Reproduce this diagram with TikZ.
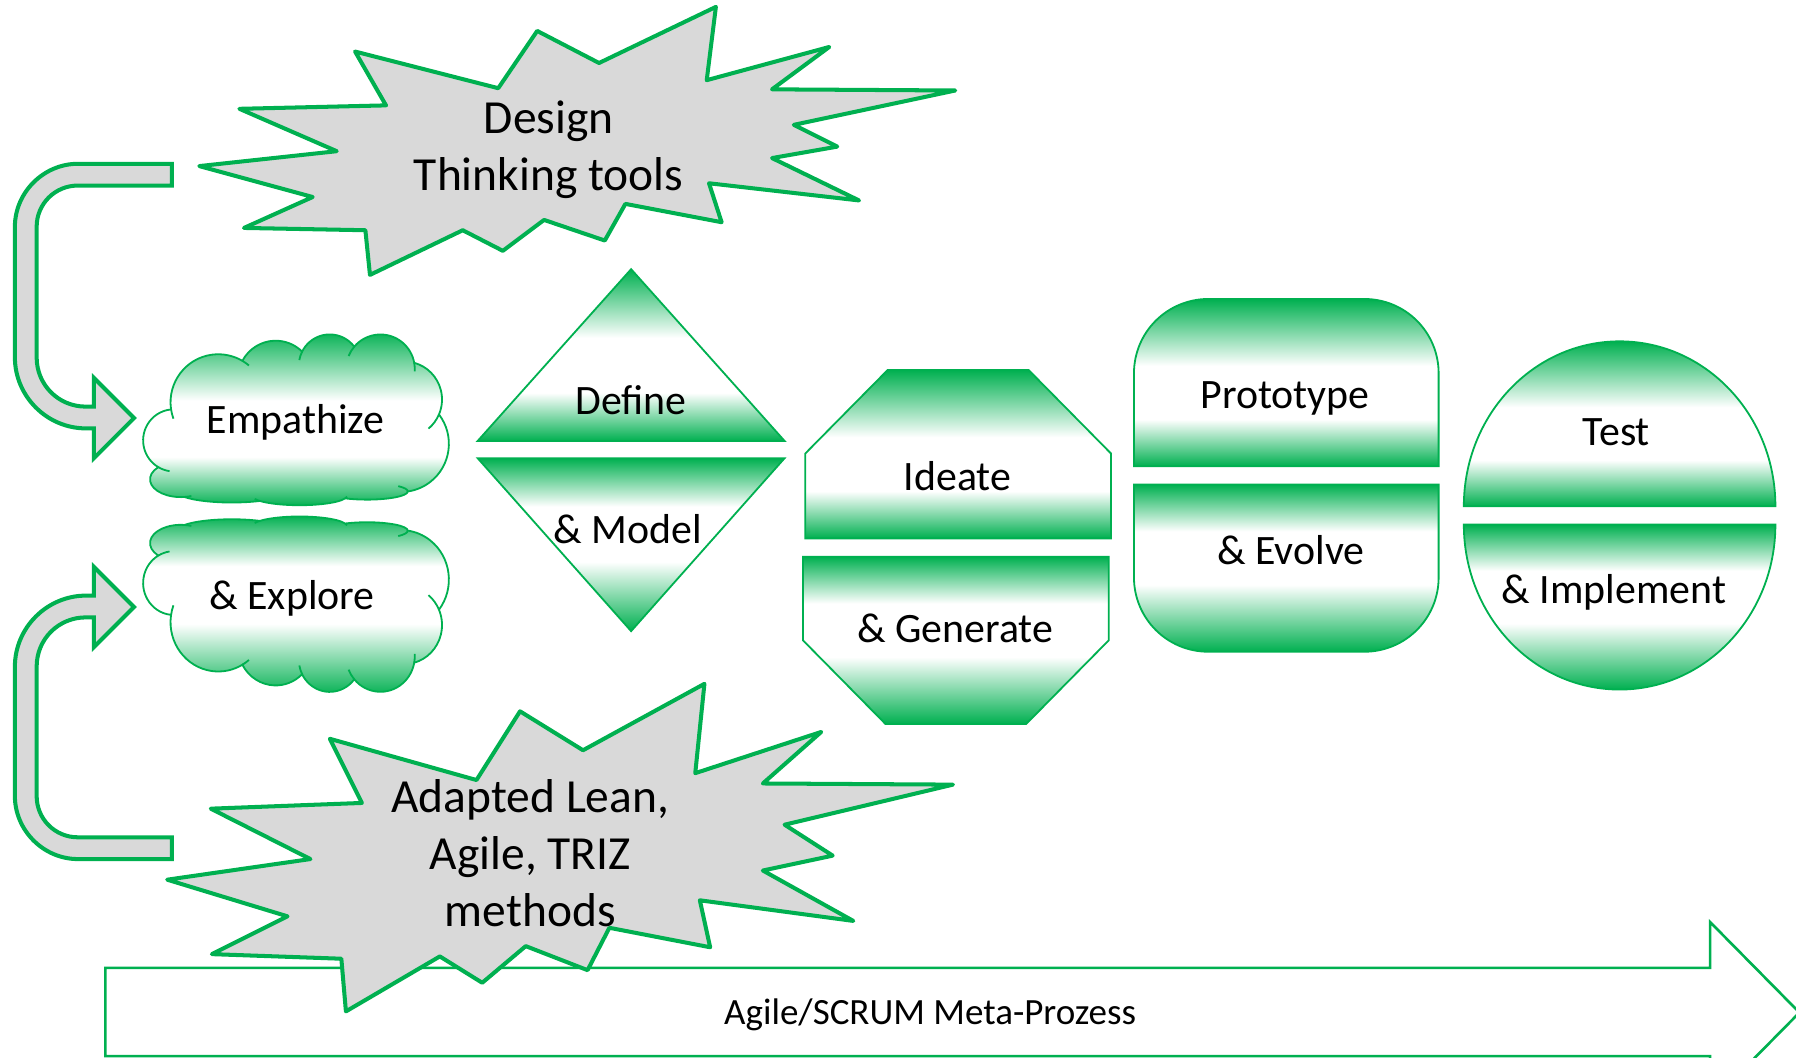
\documentclass[tikz,border=0pt]{standalone}
\usepackage{fontspec}
\setmainfont{Carlito}
\usepackage{tikz}
\usetikzlibrary{calc}
\definecolor{dtgreen}{HTML}{00B050}
\definecolor{dtgray}{HTML}{D9D9D9}
\pgfdeclareverticalshading{greenband}{100bp}{color(0bp)=(dtgreen); color(25bp)=(dtgreen); color(39bp)=(white); color(55bp)=(white); color(75bp)=(dtgreen); color(100bp)=(dtgreen)}
\pgfdeclareverticalshading{greenbandflip}{100bp}{color(0bp)=(dtgreen); color(25bp)=(dtgreen); color(45bp)=(white); color(61bp)=(white); color(75bp)=(dtgreen); color(100bp)=(dtgreen)}
\newcommand{\cloudoutline}{(39.00,143.70) coordinate (p1)
  arc[start angle=-187.75, end angle=-59.64, x radius=67.53, y radius=91.90] coordinate (p2)
  arc[start angle=-152.02, end angle=-45.44, x radius=53.33, y radius=72.67] coordinate (p3)
  arc[start angle=-153.48, end angle=-37.33, x radius=43.65, y radius=59.45] coordinate (p4)
  arc[start angle=-139.69, end angle=-10.21, x radius=48.57, y radius=65.95] coordinate (p5)
  arc[start angle=-74.77, end angle=23.21, x radius=53.33, y radius=72.73] coordinate (p6)
  arc[start angle=-37.53, end angle=81.86, x radius=67.75, y radius=92.20] coordinate (p7)
  arc[start angle=0.46, end angle=121.98, x radius=57.85, y radius=15.73] coordinate (p8)
  arc[start angle=16.84, end angle=146.24, x radius=67.52, y radius=18.43] coordinate (p9)
  arc[start angle=58.98, end angle=150.20, x radius=77.20, y radius=21.09] coordinate (p10)
  arc[start angle=-276.69, end angle=-136.89, x radius=43.60, y radius=34.03] coordinate (p11)
  arc[start angle=-239.64, end angle=-95.89, x radius=43.45, y radius=59.45] -- cycle}
\newcommand{\cloudinner}{(p1) arc[start angle=-187.75, end angle=-200, x radius=67.53, y radius=91.90]
  (p2) arc[start angle=-59.64, end angle=-50, x radius=67.53, y radius=91.90]
  (p3) arc[start angle=-153.48, end angle=-170, x radius=43.65, y radius=59.45]
  (p4) arc[start angle=-139.69, end angle=-158, x radius=48.57, y radius=65.95]
  (p5) arc[start angle=-10.21, end angle=4, x radius=48.57, y radius=65.95]
  (p6) arc[start angle=23.21, end angle=50, x radius=53.33, y radius=72.73]
  (p7) arc[start angle=0.46, end angle=-40, x radius=57.85, y radius=15.73]
  (p8) arc[start angle=16.84, end angle=6, x radius=67.52, y radius=18.43]
  (p9) arc[start angle=146.24, end angle=160, x radius=67.52, y radius=18.43]
  (p10) arc[start angle=-276.69, end angle=-290, x radius=43.60, y radius=34.03]
  (p11) arc[start angle=-239.64, end angle=-262, x radius=43.45, y radius=59.45]}

\begin{document}
\begin{tikzpicture}[x=0.02cm, y=-0.02cm,
    phase/.style={draw=dtgreen, line width=0.9pt, shade, shading=greenband},
    phaseflip/.style={draw=dtgreen, line width=0.9pt, shade, shading=greenbandflip},
    puffline/.style={draw=dtgreen, line width=0.9pt},
    burst/.style={draw=dtgreen, line width=2pt, fill=dtgray, line join=round},
    bentarrow/.style={draw=dtgreen, line width=2pt, fill=dtgray},
    phasetext/.style={font=\fontsize{20.8}{25}\selectfont, inner sep=0pt},
    bursttext/.style={font=\fontsize{23.6}{28.45}\selectfont, align=center, inner sep=0pt}]
  \useasboundingbox (0,0) rectangle (1568,923);

  % meta process arrow
  \path[draw=dtgreen, line width=1.3pt, fill=white] (92,845) -- (1493,845) -- (1493,805) -- (1571,884) -- (1493,963) -- (1493,922) -- (92,922) -- cycle;
  \node[font=\fontsize{18.4}{22}\selectfont, inner sep=0pt] (scrum) at (812,886) {Agile/SCRUM Meta-Prozess};

  % bent arrows
  \path[bentarrow] (150,143) -- (68,143) .. controls (38,143) and (13,168) .. (13,198) -- (13,312) .. controls (13,346) and (41,374) .. (75,374) -- (82,374) -- (82,400) -- (117,365) -- (82,330) -- (82,355) -- (75,355) .. controls (51,355) and (32,336) .. (32,312) -- (32,198) .. controls (32,178) and (48,162) .. (68,162) -- (150,162) -- cycle;
  \path[bentarrow] (150,750) -- (68,750) .. controls (38,750) and (13,725) .. (13,695) -- (13,582) .. controls (13,548) and (41,520) .. (75,520) -- (82,520) -- (82,495) -- (117,530) -- (82,565) -- (82,539) -- (75,539) .. controls (51,539) and (32,558) .. (32,582) -- (32,695) .. controls (32,715) and (48,731) .. (68,731) -- (150,731) -- cycle;

  % explosions
  \path[burst] (625,6) -- (617,70) -- (724,41) -- (674,78) -- (834,79) -- (693,109) -- (731,128) -- (674,138) -- (750,175) -- (619,160) -- (630,194) -- (546,178) -- (528,210) -- (475,192) -- (439,219) -- (404,201) -- (323,240) -- (319,201) -- (213,199) -- (273,172) -- (174,145) -- (294,132) -- (209,95) -- (337,92) -- (310,45) -- (435,77) -- (469,27) -- (523,55) -- cycle;
  \node[bursttext] (dttools) at (479,131) {Design\\Thinking tools};
  \path[burst] (615,597) -- (607,675) -- (717,639) -- (666,684) -- (832,685) -- (685,720) -- (727,747) -- (666,760) -- (745,804) -- (611,786) -- (620,827) -- (532,810) -- (513,847) -- (459,826) -- (421,858) -- (384,835) -- (302,883) -- (298,837) -- (185,833) -- (251,800) -- (146,768) -- (271,750) -- (184,706) -- (316,701) -- (288,645) -- (416,681) -- (454,621) -- (509,655) -- cycle;
  \node[bursttext] (leantools) at (463,745) {Adapted Lean,\\Agile, TRIZ\\methods};

  % empathize & explore
  \begin{scope}[shift={(125.2,291.3)}, x=0.012344cm, y=-0.00912cm]
    \path[phase] \cloudoutline;
    \path[puffline] \cloudinner;
  \end{scope}
  \node[phasetext] (empathize) at (258,369) {Empathize};
  \begin{scope}[shift={(125.2,604.7)}, x=0.012344cm, y=0.00937cm]
    \path[phaseflip] \cloudoutline;
    \path[puffline] \cloudinner;
  \end{scope}
  \node[phasetext] (explore) at (255,522) {\& Explore};

  % define & model
  \path[phase] (551,235) -- (685,385) -- (417,385) -- cycle;
  \node[phasetext] (define) at (551,349) {Define};
  \path[phaseflip] (417,400) -- (685,400) -- (551,551) -- cycle;
  \node[phasetext] (model) at (548,462) {\& Model};

  % ideate & generate
  \path[phase] (775,323) -- (898,323) -- (970,396) -- (970,470) -- (703,470) -- (703,396) -- cycle;
  \node[phasetext] (ideate) at (836,416) {Ideate};
  \path[phaseflip] (701,486) -- (968,486) -- (968,559) -- (896,632) -- (773,632) -- (701,559) -- cycle;
  \node[phasetext] (generate) at (834,549) {\& Generate};

  % prototype & evolve
  \path[phase] (990,407) -- (990,326) .. controls (990,290) and (1019,261) .. (1055,261) -- (1191,261) .. controls (1227,261) and (1256,290) .. (1256,326) -- (1256,407) -- cycle;
  \node[phasetext] (prototype) at (1122,348) {Prototype};
  \path[phaseflip] (990,423) -- (1256,423) -- (1256,504) .. controls (1256,540) and (1227,569) .. (1191,569) -- (1055,569) .. controls (1019,569) and (990,540) .. (990,504) -- cycle;
  \node[phasetext] (evolve) at (1127,480) {\& Evolve};

  % test & implement
  \path[phase] (1278,442) arc[start angle=180, end angle=360, x radius=136, y radius=144] -- cycle;
  \node[phasetext] (test) at (1411,377) {Test};
  \path[phaseflip] (1278,458) arc[start angle=180, end angle=0, x radius=136, y radius=144] -- cycle;
  \node[phasetext] (implement) at (1409,517) {\& Implement};
\end{tikzpicture}
\end{document}
